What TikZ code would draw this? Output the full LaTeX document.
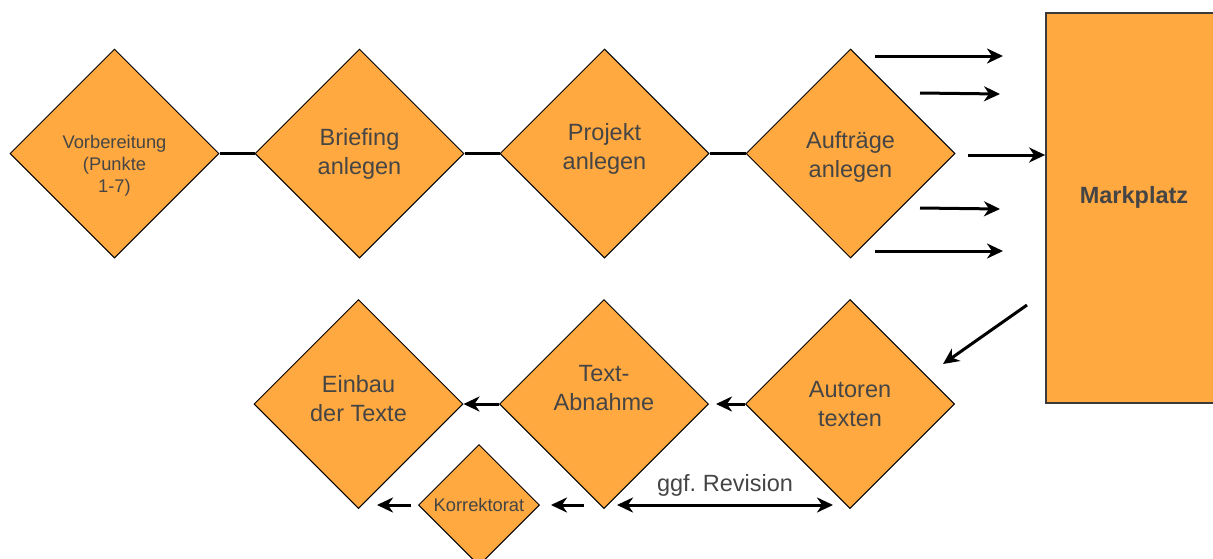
\documentclass[tikz,border=0pt]{standalone}
\usepackage{fontspec}
\setmainfont{Liberation Sans}
\usetikzlibrary{shapes.geometric,arrows.meta}
\definecolor{fillor}{HTML}{FFA940}
\definecolor{txtgray}{HTML}{454545}
\definecolor{edgegray}{HTML}{3A3A3A}
\tikzset{
  dia/.style={diamond, shape aspect=1, draw=black, line width=1pt, fill=fillor,
    inner sep=0pt, minimum width=#1, minimum height=#1},
  dia/.default=209pt,
  txt/.style={text=txtgray, font=\fontsize{23.5}{29}\selectfont, align=center, inner sep=0pt},
  smalltxt/.style={text=txtgray, font=\fontsize{18.3}{22}\selectfont, align=center, inner sep=0pt},
  boldtxt/.style={text=txtgray, font=\fontsize{23.5}{29}\selectfont\bfseries, align=center, inner sep=0pt},
  link/.style={line width=3pt},
  arr/.style={line width=3pt, -{Stealth[length=16pt,width=15pt,inset=5pt]}},
  darr/.style={line width=3pt, {Stealth[length=16pt,width=15pt,inset=5pt]}-{Stealth[length=16pt,width=15pt,inset=5pt]}},
  market/.style={rectangle, draw=edgegray, line width=1.8pt, fill=fillor,
    minimum width=176pt, minimum height=390pt, inner sep=0pt},
}
\begin{document}
\begin{tikzpicture}[x=1pt,y=-1pt]
\useasboundingbox (0,0) rectangle (1213,558);
\clip (0,0) rectangle (1213,558);

% top row
\node[dia, label={[smalltxt, yshift=-12pt]center:{Vorbereitung\\(Punkte\\1-7)}}] (vor) at (114.5,153.5) {};
\node[dia, label={[txt]center:{Briefing\\anlegen}}] (bri) at (359.5,153.5) {};
\node[dia, label={[txt, yshift=4.5pt]center:{Projekt\\anlegen}}] (pro) at (604.5,153.5) {};
\node[dia, label={[txt, yshift=-3.5pt]center:{Aufträge\\anlegen}}] (auf) at (850.5,153.5) {};

\draw[link] (vor) -- (bri);
\draw[link] (bri) -- (pro);
\draw[link] (pro) -- (auf);

% market place
\node[market, label={[boldtxt, yshift=11pt]center:{Markplatz}}] (mkt) at (1134,208) {};

% arrows out of Auftraege
\coordinate (a1s) at (875,56);  \coordinate (a1e) at (1003,56);
\coordinate (a2s) at (920,93);  \coordinate (a2e) at (1000,94);
\coordinate (a3s) at (968,155);
\coordinate (a4s) at (920,208); \coordinate (a4e) at (1000,209);
\coordinate (a5s) at (875,251); \coordinate (a5e) at (1003,251);
\draw[arr] (a1s) -- (a1e);
\draw[arr] (a2s) -- (a2e);
\draw[arr] (a3s) -- (mkt.west |- a3s);
\draw[arr] (a4s) -- (a4e);
\draw[arr] (a5s) -- (a5e);

% bottom row
\node[dia, label={[txt, yshift=5pt]center:{Einbau\\der Texte}}] (ein) at (358.5,404) {};
\node[dia, label={[txt, yshift=15.5pt]center:{Text-\\Abnahme}}] (abn) at (604,404) {};
\node[dia, label={[txt]center:{Autoren\\texten}}] (aut) at (850,404) {};
\node[dia=121pt, label={[smalltxt]center:{Korrektorat}}] (kor) at (479,505) {};

\coordinate (ms) at (1027,305);
\coordinate (me) at (943,364);
\draw[arr] (ms) -- (me);

\draw[arr, shorten >=7pt] (aut) -- (abn);
\draw[arr] (abn) -- (ein);

\coordinate (rs) at (617,505);
\coordinate (re) at (833,505);
\draw[darr] (rs) -- node[txt, above=7pt] (rev) {ggf.\ Revision} (re);

\coordinate (k1s) at (584,505);
\draw[arr] (k1s) -- ([xshift=11pt]kor.east);
\coordinate (k2e) at (377,505);
\draw[arr] ([xshift=-7pt]kor.west) -- (k2e);
\end{tikzpicture}
\end{document}
